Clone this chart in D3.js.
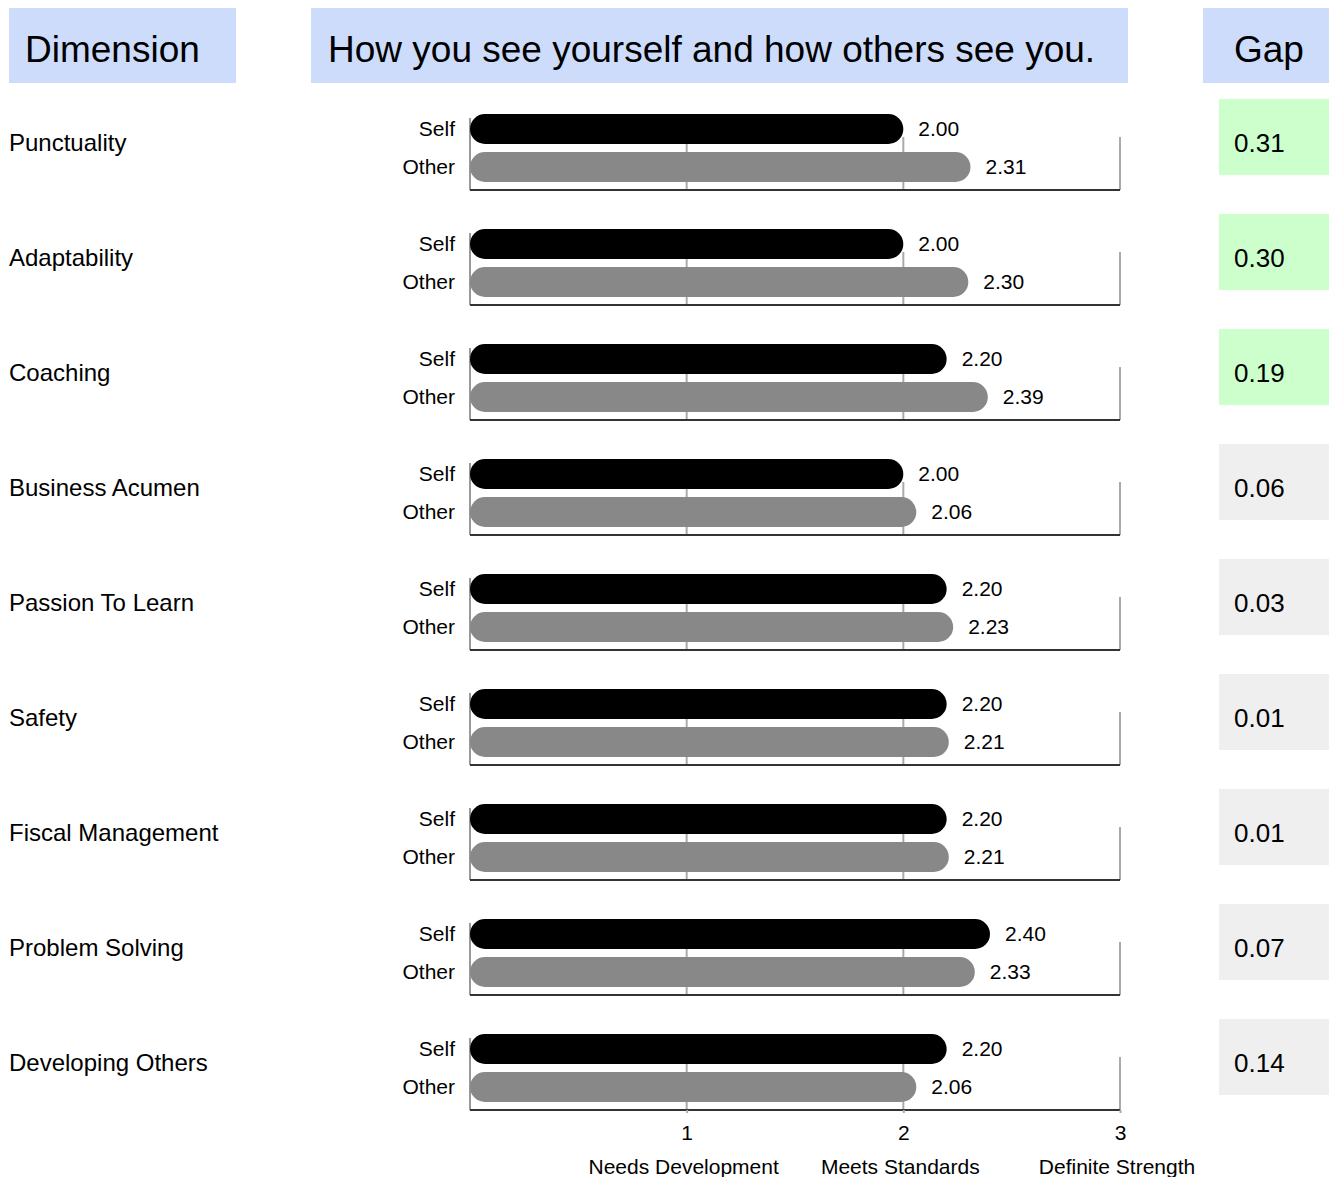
<!DOCTYPE html>
<html>
<head>
<meta charset="utf-8">
<script src="https://cdn.jsdelivr.net/npm/d3@7"></script>
<style>
  body { margin: 0; background: #fff; }
  svg { font-family: "Liberation Sans", Arial, sans-serif; display: block; }
</style>
</head>
<body>
<script>
// chart data
var dimensions = ["Punctuality", "Adaptability", "Coaching", "Business Acumen", "Passion To Learn",
    "Safety", "Fiscal Management", "Problem Solving", "Developing Others"];
var selfScores = [2.00, 2.00, 2.20, 2.00, 2.20, 2.20, 2.20, 2.40, 2.20];
var otherScores = [2.31, 2.30, 2.39, 2.06, 2.23, 2.21, 2.21, 2.33, 2.06];
var gaps = [0.31, 0.30, 0.19, 0.06, 0.03, 0.01, 0.01, 0.07, 0.14];
var raters = ["Self", "Other"];
var tickValues = [1, 2, 3];
var tickNames = ["Needs Development", "Meets Standards", "Definite Strength"];

var width = 1329, height = 1177;

var svg = d3.select("body").append("svg")
    .attr("width", width)
    .attr("height", height);

// header boxes
var headers = [
    { text: "Dimension", x: 9, w: 227, tx: 25 },
    { text: "How you see yourself and how others see you.", x: 311, w: 817, tx: 328 },
    { text: "Gap", x: 1203, w: 126, tx: 1234 }
];
var head = svg.append("g").attr("class", "headers");
head.selectAll("rect").data(headers).enter().append("rect")
    .attr("x", d => d.x).attr("y", 8)
    .attr("width", d => d.w).attr("height", 75)
    .attr("fill", "#cddcfb");
head.selectAll("text").data(headers).enter().append("text")
    .attr("x", d => d.tx).attr("y", 62)
    .attr("font-size", 37)
    .attr("fill", "#000")
    .text(d => d.text);

var x = d3.scaleLinear().domain([0, 3]).range([470, 1120]);
var row = d3.scaleBand().domain(dimensions).range([99, 99 + 115 * dimensions.length]);
var inner = d3.scaleBand().domain(raters).range([15, 83]).paddingInner(0.21).paddingOuter(0);

var rows = dimensions.map(function (d, i) {
    return { name: d, self: selfScores[i], other: otherScores[i], gap: gaps[i] };
});

var g = svg.selectAll("g.row")
    .data(rows)
    .enter().append("g")
    .attr("class", "row")
    .attr("transform", d => "translate(0," + row(d.name) + ")");

// dimension label
g.append("text")
    .attr("x", 9).attr("y", 44)
    .attr("dy", "0.35em")
    .attr("font-size", 24)
    .text(d => d.name);

// gap box
g.append("rect")
    .attr("x", 1219).attr("y", 0)
    .attr("width", 110).attr("height", 76)
    .attr("fill", d => (d.other - d.self) >= 0.15 ? "#ccffcc" : "#efefef");
g.append("text")
    .attr("x", 1234).attr("y", 44)
    .attr("dy", "0.35em")
    .attr("font-size", 26)
    .text(d => d3.format(".2f")(d.gap));

// gridlines
g.selectAll("line.grid")
    .data(tickValues)
    .enter().append("line")
    .attr("class", "grid")
    .attr("x1", v => x(v)).attr("x2", v => x(v))
    .attr("y1", 38).attr("y2", 91)
    .attr("stroke", "#aaaaaa").attr("stroke-width", 2);

// left axis
g.append("line")
    .attr("x1", x(0)).attr("x2", x(0))
    .attr("y1", 19).attr("y2", 91)
    .attr("stroke", "#999").attr("stroke-width", 2);

// bars
g.each(function (d) {
    var vals = [{ r: "Self", v: d.self }, { r: "Other", v: d.other }];
    var sel = d3.select(this);
    sel.selectAll("rect.bar").data(vals).enter().append("rect")
        .attr("class", "bar")
        .attr("x", x(0))
        .attr("y", e => inner(e.r))
        .attr("width", e => x(e.v) - x(0))
        .attr("height", inner.bandwidth())
        .attr("rx", inner.bandwidth() / 2)
        .attr("fill", e => e.r === "Self" ? "#000000" : "#888888");
    sel.selectAll("text.val").data(vals).enter().append("text")
        .attr("class", "val")
        .attr("x", e => x(e.v) + 15)
        .attr("y", e => inner(e.r) + inner.bandwidth() / 2)
        .attr("dy", "0.35em")
        .attr("font-size", 21)
        .text(e => d3.format(".2f")(e.v));
    sel.selectAll("text.rater").data(vals).enter().append("text")
        .attr("class", "rater")
        .attr("x", 455)
        .attr("y", e => inner(e.r) + inner.bandwidth() / 2)
        .attr("dy", "0.35em")
        .attr("text-anchor", "end")
        .attr("font-size", 21)
        .text(e => e.r);
});

// baseline
g.append("line")
    .attr("x1", x(0)).attr("x2", x(3))
    .attr("y1", 91).attr("y2", 91)
    .attr("stroke", "#333").attr("stroke-width", 2);

// bottom axis labels
var lastY = row(dimensions[dimensions.length - 1]) + 91;
var axis = d3.axisBottom(x).tickValues(tickValues).tickSize(3).tickFormat(d3.format("d"));
var ax = svg.append("g")
    .attr("transform", "translate(0," + lastY + ")")
    .call(axis);
ax.select(".domain").remove();
ax.selectAll(".tick line").attr("stroke", "#aaa").attr("stroke-width", 2);
ax.selectAll(".tick text")
    .attr("font-family", "Liberation Sans, Arial, sans-serif")
    .attr("font-size", 21)
    .attr("fill", "#000")
    .attr("y", 0).attr("dy", "1.45em");

svg.append("g").selectAll("text")
    .data(tickValues)
    .enter().append("text")
    .attr("x", (v) => x(v) - 3)
    .attr("y", lastY + 64)
    .attr("text-anchor", "middle")
    .attr("font-size", 21)
    .text((v, i) => tickNames[i]);
</script>
</body>
</html>
